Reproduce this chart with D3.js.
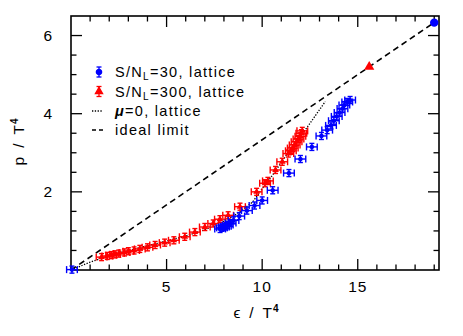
<!DOCTYPE html>
<html>
<head>
<meta charset="utf-8">
<script src="https://cdn.jsdelivr.net/npm/d3@7"></script>
<style>
  body { margin: 0; background: #fff; }
  text { font-family: "Liberation Sans", Arial, sans-serif; }
</style>
</head>
<body>
<svg id="chart" width="463" height="336"></svg>
<script>
// S/N_L = 300 lattice points (eps/T^4, p/T^4)
const redEps = [1.6, 1.9, 2.1, 2.3, 2.5, 2.8, 3.0, 3.3, 3.6, 4.0, 4.4, 4.9, 5.38, 5.95, 6.48, 7.0, 7.44, 7.79, 8.22, 8.84, 9.71, 10.15, 10.3, 10.7, 11.05, 11.37, 11.5, 11.6, 11.7, 11.8, 11.9, 12.0, 12.05, 12.1];
const redP   = [0.33, 0.36, 0.38, 0.40, 0.42, 0.45, 0.48, 0.50, 0.54, 0.58, 0.64, 0.70, 0.76, 0.85, 0.97, 1.10, 1.19, 1.30, 1.40, 1.62, 2.00, 2.22, 2.28, 2.56, 2.77, 2.98, 3.05, 3.12, 3.20, 3.28, 3.35, 3.42, 3.50, 3.56];
// S/N_L = 30 lattice points
const blueEps = [0.05, 7.8, 7.9, 8.0, 8.1, 8.2, 8.35, 8.5, 8.8, 9.2, 9.6, 10.0, 10.55, 11.4, 12.0, 12.6, 13.1, 13.4, 13.6, 13.75, 13.9, 14.05, 14.2, 14.3, 14.45, 14.6];
const blueP   = [0.01, 1.05, 1.08, 1.10, 1.12, 1.15, 1.20, 1.27, 1.38, 1.52, 1.65, 1.78, 2.04, 2.48, 2.84, 3.15, 3.43, 3.58, 3.70, 3.82, 3.93, 4.03, 4.13, 4.22, 4.30, 4.35];
const epsErr = 0.28, pErr = 0.09;
// mu = 0 lattice curve
const muEps = [0, 1, 2, 3, 4, 5, 6, 7, 8, 8.5, 9, 9.5, 10, 10.5, 11, 11.5, 12, 12.25, 13.3];
const muP   = [0, 0.2, 0.37, 0.5, 0.62, 0.74, 0.87, 1.03, 1.25, 1.38, 1.55, 1.74, 2.08, 2.4, 2.75, 3.1, 3.42, 3.58, 4.31];
// ideal (Stefan-Boltzmann) limit p = eps/3 and end points
const idealEps = [0, 19];
const idealP = [0, 19 / 3];
const sbBlue = [19, 6.33];
const sbRed = [15.6, 5.2];
const xTicks = [5, 10, 15];
const yTicks = [2, 4, 6];

const svg = d3.select('#chart');
const mLeft = 71, mRight = 439, mTop = 16, mBottom = 270;
const x = d3.scaleLinear().domain([0, 19.25]).range([mLeft, mRight]);
const y = d3.scaleLinear().domain([0, 6.5]).range([mBottom, mTop]);
const blue = '#0000ff', red = '#ff0000';

// ticks on all four sides, pointing inward
const g = svg.append('g').attr('stroke', '#000').attr('stroke-width', 1.3);
d3.range(1, 20).forEach(v => {
  const len = v % 5 === 0 ? 11 : 5.5;
  g.append('line').attr('x1', x(v)).attr('x2', x(v)).attr('y1', mBottom).attr('y2', mBottom - len);
  g.append('line').attr('x1', x(v)).attr('x2', x(v)).attr('y1', mTop).attr('y2', mTop + len);
});
d3.range(0.5, 6.5, 0.5).forEach(v => {
  const len = Math.abs(v % 2) < 1e-6 ? 11 : 5.5;
  g.append('line').attr('y1', y(v)).attr('y2', y(v)).attr('x1', mLeft).attr('x2', mLeft + len);
  g.append('line').attr('y1', y(v)).attr('y2', y(v)).attr('x1', mRight).attr('x2', mRight - len);
});
svg.append('rect').attr('x', mLeft).attr('y', mTop).attr('width', mRight - mLeft).attr('height', mBottom - mTop)
  .attr('fill', 'none').attr('stroke', '#000').attr('stroke-width', 1.6);

svg.selectAll('.xt').data(xTicks).enter().append('text')
  .attr('x', d => x(d)).attr('y', 292).attr('text-anchor', 'middle').attr('font-size', 15.5).attr('letter-spacing', 1).text(d => d);
svg.selectAll('.yt').data(yTicks).enter().append('text')
  .attr('x', 52).attr('y', d => y(d) + 5).attr('text-anchor', 'end').attr('font-size', 15.5).text(d => d);

const xt = svg.append('text').attr('x', 256).attr('y', 318).attr('text-anchor', 'middle').attr('font-size', 15.5);
xt.append('tspan').text('ϵ');
xt.append('tspan').attr('dx', 9).text('/');
xt.append('tspan').attr('dx', 9).text('T');
xt.append('tspan').attr('font-size', 10).attr('font-weight', 'bold').attr('dx', 1).attr('dy', -6).text('4');
const yt = svg.append('text').attr('transform', 'translate(24,142) rotate(-90)').attr('text-anchor', 'middle').attr('font-size', 15.5);
yt.append('tspan').text('p');
yt.append('tspan').attr('dx', 9).text('/');
yt.append('tspan').attr('dx', 9).text('T');
yt.append('tspan').attr('font-size', 10).attr('font-weight', 'bold').attr('dx', 1).attr('dy', -6).text('4');

// lines
const line = d3.line().x(d => x(d[0])).y(d => y(d[1]));
svg.append('path').datum(d3.zip(idealEps, idealP)).attr('d', line)
  .attr('fill', 'none').attr('stroke', '#000').attr('stroke-width', 1.6).attr('stroke-dasharray', '6,4');
svg.append('path').datum(d3.zip(muEps, muP)).attr('d', line)
  .attr('fill', 'none').attr('stroke', '#000').attr('stroke-width', 1.3).attr('stroke-dasharray', '1.3,1.5');

// error bars
function errPoints(eps, p, color, shape) {
  const pg = svg.append('g').attr('stroke', color).attr('stroke-width', 1.4).attr('fill', 'none');
  eps.forEach((e, i) => {
    const cx = x(e), cy = y(p[i]);
    const x0 = x(e - epsErr), x1 = x(e + epsErr), y0 = y(p[i] - pErr), y1 = y(p[i] + pErr);
    pg.append('line').attr('x1', x0).attr('x2', x1).attr('y1', cy).attr('y2', cy);
    pg.append('line').attr('x1', x0).attr('x2', x0).attr('y1', y0).attr('y2', y1);
    pg.append('line').attr('x1', x1).attr('x2', x1).attr('y1', y0).attr('y2', y1);
    pg.append('line').attr('x1', cx).attr('x2', cx).attr('y1', y0).attr('y2', y1);
    pg.append('line').attr('x1', cx - 2.5).attr('x2', cx + 2.5).attr('y1', y0).attr('y2', y0);
    pg.append('line').attr('x1', cx - 2.5).attr('x2', cx + 2.5).attr('y1', y1).attr('y2', y1);
    pg.append('path').attr('d', d3.symbol().type(shape).size(8)()).attr('transform', `translate(${cx},${cy})`).attr('fill', color);
  });
}
errPoints(redEps, redP, red, d3.symbolTriangle);
errPoints(blueEps, blueP, blue, d3.symbolCircle);

svg.append('circle').attr('cx', x(sbBlue[0])).attr('cy', y(sbBlue[1])).attr('r', 4.2).attr('fill', blue);
svg.append('path').attr('d', d3.symbol().type(d3.symbolTriangle).size(45)())
  .attr('transform', `translate(${x(sbRed[0])},${y(sbRed[1])})`).attr('fill', red);

// legend
const lg = svg.append('g');
const lx = 99, tx = 115;
function legErr(cy, color, shape) {
  const gg = lg.append('g').attr('stroke', color).attr('stroke-width', 1.3);
  gg.append('line').attr('x1', lx).attr('x2', lx).attr('y1', cy - 5).attr('y2', cy + 5);
  gg.append('line').attr('x1', lx - 2.5).attr('x2', lx + 2.5).attr('y1', cy - 5).attr('y2', cy - 5);
  gg.append('line').attr('x1', lx - 2.5).attr('x2', lx + 2.5).attr('y1', cy + 5).attr('y2', cy + 5);
  gg.append('path').attr('d', d3.symbol().type(shape).size(22)()).attr('transform', `translate(${lx},${cy})`).attr('fill', color);
}
legErr(72, blue, d3.symbolCircle);
legErr(91.5, red, d3.symbolTriangle);
lg.append('line').attr('x1', 92).attr('x2', 103).attr('y1', 111).attr('y2', 111)
  .attr('stroke', '#000').attr('stroke-width', 1.3).attr('stroke-dasharray', '1.3,1.5');
lg.append('line').attr('x1', 92).attr('x2', 106).attr('y1', 130).attr('y2', 130)
  .attr('stroke', '#000').attr('stroke-width', 1.6).attr('stroke-dasharray', '4,3');

const ls = 1.3, fs = 14.5;
function legText(cy, n) {
  const t = lg.append('text').attr('x', tx).attr('y', cy + 5).attr('font-size', fs).attr('letter-spacing', ls);
  t.append('tspan').text('S/N');
  t.append('tspan').attr('font-size', 10).attr('dy', 3).text('L');
  t.append('tspan').attr('dy', -3).text('=' + n + ', lattice');
}
legText(72, 30);
legText(91.5, 300);
const mt = lg.append('text').attr('x', tx).attr('y', 116).attr('font-size', fs).attr('letter-spacing', ls);
mt.append('tspan').attr('font-weight', 'bold').attr('font-style', 'italic').text('μ');
mt.append('tspan').text('=0, lattice');
lg.append('text').attr('x', tx).attr('y', 135).attr('font-size', fs).attr('letter-spacing', ls).text('ideal limit');
</script>
</body>
</html>
